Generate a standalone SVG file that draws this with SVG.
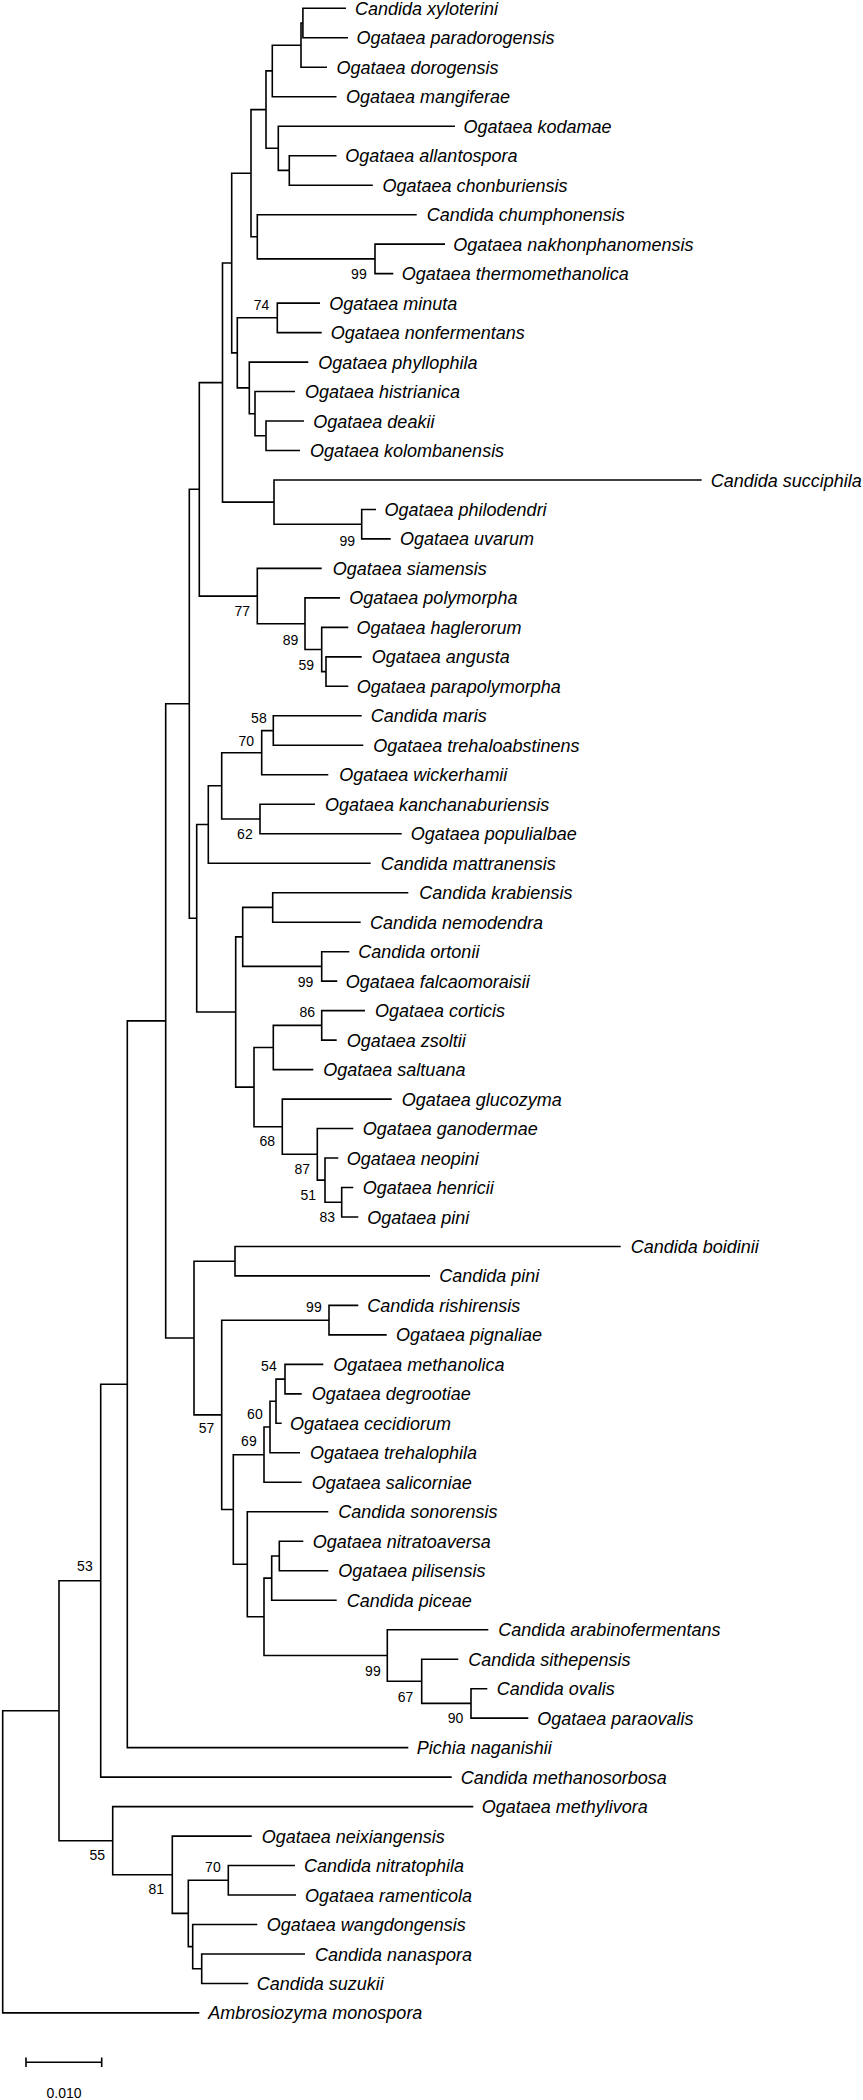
<svg xmlns="http://www.w3.org/2000/svg" width="863" height="2100" viewBox="0 0 863 2100">
<style>
.b{fill:none;stroke:#000;stroke-width:1.6;stroke-linejoin:miter}
.t{font-family:"Liberation Sans",Arial,sans-serif;font-size:18px;font-style:italic;fill:#000}
.s{font-family:"Liberation Sans",Arial,sans-serif;font-size:14px;fill:#000;text-anchor:end}
.sc{font-family:"Liberation Sans",Arial,sans-serif;font-size:14px;fill:#000;text-anchor:middle}
</style>
<rect width="863" height="2100" fill="#fff"/>
<g id="branches" class="b">
<path d="M346 8.3H302.9V37.8H348"/>
<path d="M302.9 23H301V67.3H327"/>
<path d="M301 45.2H272.3V96.7H336.5"/>
<path d="M336.5 155.7H289.3V185.2H372.8"/>
<path d="M455 126.2H278.3V170.4H289.3"/>
<path d="M272.3 70.9H266V148.3H278.3"/>
<path d="M445 244.1H375V273.6H393.3"/>
<path d="M416.7 214.7H257.3V258.9H375"/>
<path d="M266 109.6H251V236.8H257.3"/>
<path d="M320 303.1H277.3V332.6H321.7"/>
<path d="M304 421H266V450.5H300"/>
<path d="M295 391.5H255V435.8H266"/>
<path d="M308.3 362.1H249.3V413.7H255"/>
<path d="M277.3 317.8H237.3V387.9H249.3"/>
<path d="M251 173.2H231.7V352.9H237.3"/>
<path d="M376 509.5H361.7V538.9H390.7"/>
<path d="M701.7 480H274V524.2H361.7"/>
<path d="M231.7 263H222.5V502.1H274"/>
<path d="M361.7 656.9H326V686.3H348.3"/>
<path d="M348.3 627.4H321.7V671.6H326"/>
<path d="M340 597.9H305V649.5H321.7"/>
<path d="M321.7 568.4H257.3V623.7H305"/>
<path d="M222.5 382.6H199.3V596.1H257.3"/>
<path d="M361.7 715.8H273.3V745.3H363.3"/>
<path d="M273.3 730.6H261.7V774.8H328.3"/>
<path d="M315 804.3H260V833.7H401.7"/>
<path d="M261.7 752.7H221.7V819H260"/>
<path d="M221.7 785.8H208.3V863.2H370.7"/>
<path d="M408.3 892.7H272.7V922.2H360.7"/>
<path d="M349.3 951.7H321.7V981.1H337.3"/>
<path d="M272.7 907.4H242.7V966.4H321.7"/>
<path d="M365 1010.6H321.7V1040.1H336.7"/>
<path d="M321.7 1025.4H273.3V1069.6H313.3"/>
<path d="M353.3 1187.5H341.7V1217H358.3"/>
<path d="M338.3 1158H325V1202.2H341.7"/>
<path d="M353.3 1128.5H317.3V1180.1H325"/>
<path d="M391.7 1099.1H282.3V1154.3H317.3"/>
<path d="M273.3 1047.5H254V1126.7H282.3"/>
<path d="M242.7 936.9H235.7V1087.1H254"/>
<path d="M208.3 824.5H196.7V1012H235.7"/>
<path d="M199.3 489.3H189.3V918.3H196.7"/>
<path d="M620.7 1246.5H235V1275.9H430"/>
<path d="M358.3 1305.4H329V1334.9H386.7"/>
<path d="M323.3 1364.4H285V1393.9H301.7"/>
<path d="M285 1379.1H276V1423.3H281.7"/>
<path d="M276 1401.2H270V1452.8H300"/>
<path d="M270 1427H264V1482.3H301.7"/>
<path d="M303.3 1541.3H279.3V1570.7H328.3"/>
<path d="M279.3 1556H271.7V1600.2H336.7"/>
<path d="M487.3 1688.7H471V1718.1H528.3"/>
<path d="M458.3 1659.2H421.7V1703.4H471"/>
<path d="M488.3 1629.7H387.3V1681.3H421.7"/>
<path d="M271.7 1578.1H264V1655.5H387.3"/>
<path d="M328.3 1511.8H247.3V1616.8H264"/>
<path d="M264 1454.7H233.3V1564.3H247.3"/>
<path d="M329 1320.2H221.7V1509.5H233.3"/>
<path d="M235 1261.2H194V1414.9H221.7"/>
<path d="M189.3 703.8H165.7V1338H194"/>
<path d="M165.7 1020.9H127.3V1747.6H408.3"/>
<path d="M127.3 1384.3H100.7V1777.1H451.7"/>
<path d="M295 1865.5H228.3V1895H296"/>
<path d="M305 1954H201.7V1983.5H248.3"/>
<path d="M257.3 1924.5H192.7V1968.7H201.7"/>
<path d="M228.3 1880.3H188.3V1946.6H192.7"/>
<path d="M251.7 1836.1H172.3V1913.4H188.3"/>
<path d="M473.3 1806.6H112.7V1874.7H172.3"/>
<path d="M100.7 1580.7H59V1840.7H112.7"/>
<path d="M59 1710.7H2.7V2012.9H199.3"/>
</g>
<g id="leaves" class="t">
<g id="leaf-candida-xyloterini"><text x="355" y="14.8">Candida xyloterini</text></g>
<g id="leaf-ogataea-paradorogensis"><text x="356.4" y="44.3">Ogataea paradorogensis</text></g>
<g id="leaf-ogataea-dorogensis"><text x="336.5" y="73.8">Ogataea dorogensis</text></g>
<g id="leaf-ogataea-mangiferae"><text x="346" y="103.2">Ogataea mangiferae</text></g>
<g id="leaf-ogataea-kodamae"><text x="463.5" y="132.7">Ogataea kodamae</text></g>
<g id="leaf-ogataea-allantospora"><text x="345.3" y="162.2">Ogataea allantospora</text></g>
<g id="leaf-ogataea-chonburiensis"><text x="382.4" y="191.7">Ogataea chonburiensis</text></g>
<g id="leaf-candida-chumphonensis"><text x="426.7" y="221.2">Candida chumphonensis</text></g>
<g id="leaf-ogataea-nakhonphanomensis"><text x="453.3" y="250.6">Ogataea nakhonphanomensis</text></g>
<g id="leaf-ogataea-thermomethanolica"><text x="401.7" y="280.1">Ogataea thermomethanolica</text></g>
<g id="leaf-ogataea-minuta"><text x="329.3" y="309.6">Ogataea minuta</text></g>
<g id="leaf-ogataea-nonfermentans"><text x="330.7" y="339.1">Ogataea nonfermentans</text></g>
<g id="leaf-ogataea-phyllophila"><text x="318.3" y="368.6">Ogataea phyllophila</text></g>
<g id="leaf-ogataea-histrianica"><text x="305" y="398">Ogataea histrianica</text></g>
<g id="leaf-ogataea-deakii"><text x="313.3" y="427.5">Ogataea deakii</text></g>
<g id="leaf-ogataea-kolombanensis"><text x="310" y="457">Ogataea kolombanensis</text></g>
<g id="leaf-candida-succiphila"><text x="710.7" y="486.5">Candida succiphila</text></g>
<g id="leaf-ogataea-philodendri"><text x="384.5" y="516">Ogataea philodendri</text></g>
<g id="leaf-ogataea-uvarum"><text x="400" y="545.4">Ogataea uvarum</text></g>
<g id="leaf-ogataea-siamensis"><text x="332.7" y="574.9">Ogataea siamensis</text></g>
<g id="leaf-ogataea-polymorpha"><text x="349.3" y="604.4">Ogataea polymorpha</text></g>
<g id="leaf-ogataea-haglerorum"><text x="356.5" y="633.9">Ogataea haglerorum</text></g>
<g id="leaf-ogataea-angusta"><text x="371.7" y="663.4">Ogataea angusta</text></g>
<g id="leaf-ogataea-parapolymorpha"><text x="356.7" y="692.8">Ogataea parapolymorpha</text></g>
<g id="leaf-candida-maris"><text x="370.7" y="722.3">Candida maris</text></g>
<g id="leaf-ogataea-trehaloabstinens"><text x="373.3" y="751.8">Ogataea trehaloabstinens</text></g>
<g id="leaf-ogataea-wickerhamii"><text x="339.3" y="781.3">Ogataea wickerhamii</text></g>
<g id="leaf-ogataea-kanchanaburiensis"><text x="325" y="810.8">Ogataea kanchanaburiensis</text></g>
<g id="leaf-ogataea-populialbae"><text x="410.7" y="840.2">Ogataea populialbae</text></g>
<g id="leaf-candida-mattranensis"><text x="380.7" y="869.7">Candida mattranensis</text></g>
<g id="leaf-candida-krabiensis"><text x="419.3" y="899.2">Candida krabiensis</text></g>
<g id="leaf-candida-nemodendra"><text x="370" y="928.7">Candida nemodendra</text></g>
<g id="leaf-candida-ortonii"><text x="358.3" y="958.2">Candida ortonii</text></g>
<g id="leaf-ogataea-falcaomoraisii"><text x="345.7" y="987.6">Ogataea falcaomoraisii</text></g>
<g id="leaf-ogataea-corticis"><text x="375" y="1017.1">Ogataea corticis</text></g>
<g id="leaf-ogataea-zsoltii"><text x="346.7" y="1046.6">Ogataea zsoltii</text></g>
<g id="leaf-ogataea-saltuana"><text x="323.3" y="1076.1">Ogataea saltuana</text></g>
<g id="leaf-ogataea-glucozyma"><text x="401.7" y="1105.6">Ogataea glucozyma</text></g>
<g id="leaf-ogataea-ganodermae"><text x="362.7" y="1135">Ogataea ganodermae</text></g>
<g id="leaf-ogataea-neopini"><text x="346.7" y="1164.5">Ogataea neopini</text></g>
<g id="leaf-ogataea-henricii"><text x="362.7" y="1194">Ogataea henricii</text></g>
<g id="leaf-ogataea-pini"><text x="367.3" y="1223.5">Ogataea pini</text></g>
<g id="leaf-candida-boidinii"><text x="630.7" y="1253">Candida boidinii</text></g>
<g id="leaf-candida-pini"><text x="439.3" y="1282.4">Candida pini</text></g>
<g id="leaf-candida-rishirensis"><text x="367.3" y="1311.9">Candida rishirensis</text></g>
<g id="leaf-ogataea-pignaliae"><text x="396" y="1341.4">Ogataea pignaliae</text></g>
<g id="leaf-ogataea-methanolica"><text x="333.3" y="1370.9">Ogataea methanolica</text></g>
<g id="leaf-ogataea-degrootiae"><text x="311.7" y="1400.4">Ogataea degrootiae</text></g>
<g id="leaf-ogataea-cecidiorum"><text x="290" y="1429.8">Ogataea cecidiorum</text></g>
<g id="leaf-ogataea-trehalophila"><text x="310" y="1459.3">Ogataea trehalophila</text></g>
<g id="leaf-ogataea-salicorniae"><text x="311.7" y="1488.8">Ogataea salicorniae</text></g>
<g id="leaf-candida-sonorensis"><text x="338.3" y="1518.3">Candida sonorensis</text></g>
<g id="leaf-ogataea-nitratoaversa"><text x="312.7" y="1547.8">Ogataea nitratoaversa</text></g>
<g id="leaf-ogataea-pilisensis"><text x="338.3" y="1577.2">Ogataea pilisensis</text></g>
<g id="leaf-candida-piceae"><text x="346.7" y="1606.7">Candida piceae</text></g>
<g id="leaf-candida-arabinofermentans"><text x="498.3" y="1636.2">Candida arabinofermentans</text></g>
<g id="leaf-candida-sithepensis"><text x="468.3" y="1665.7">Candida sithepensis</text></g>
<g id="leaf-candida-ovalis"><text x="496.7" y="1695.2">Candida ovalis</text></g>
<g id="leaf-ogataea-paraovalis"><text x="537.3" y="1724.6">Ogataea paraovalis</text></g>
<g id="leaf-pichia-naganishii"><text x="416.7" y="1754.1">Pichia naganishii</text></g>
<g id="leaf-candida-methanosorbosa"><text x="460.7" y="1783.6">Candida methanosorbosa</text></g>
<g id="leaf-ogataea-methylivora"><text x="481.7" y="1813.1">Ogataea methylivora</text></g>
<g id="leaf-ogataea-neixiangensis"><text x="261.7" y="1842.6">Ogataea neixiangensis</text></g>
<g id="leaf-candida-nitratophila"><text x="304" y="1872">Candida nitratophila</text></g>
<g id="leaf-ogataea-ramenticola"><text x="305" y="1901.5">Ogataea ramenticola</text></g>
<g id="leaf-ogataea-wangdongensis"><text x="266.7" y="1931">Ogataea wangdongensis</text></g>
<g id="leaf-candida-nanaspora"><text x="315" y="1960.5">Candida nanaspora</text></g>
<g id="leaf-candida-suzukii"><text x="256.7" y="1990">Candida suzukii</text></g>
<g id="leaf-ambrosiozyma-monospora"><text x="208.3" y="2019.4">Ambrosiozyma monospora</text></g>
</g>
<g id="bootstrap" class="s">
<text x="366.7" y="279">99</text>
<text x="269.3" y="309.7">74</text>
<text x="355" y="545.7">99</text>
<text x="250" y="615.7">77</text>
<text x="298.3" y="645">89</text>
<text x="314" y="670">59</text>
<text x="266.7" y="723.3">58</text>
<text x="254" y="745.7">70</text>
<text x="252.7" y="839">62</text>
<text x="313.3" y="986.7">99</text>
<text x="315" y="1016.7">86</text>
<text x="275" y="1146">68</text>
<text x="310" y="1174">87</text>
<text x="316" y="1200">51</text>
<text x="335" y="1222.3">83</text>
<text x="321.7" y="1312.3">99</text>
<text x="276.7" y="1370.7">54</text>
<text x="262.7" y="1419">60</text>
<text x="256.7" y="1445.7">69</text>
<text x="214.3" y="1433.3">57</text>
<text x="92.7" y="1570.7">53</text>
<text x="380.7" y="1675.7">99</text>
<text x="413.3" y="1701.7">67</text>
<text x="463.3" y="1723.3">90</text>
<text x="105" y="1860">55</text>
<text x="164" y="1894">81</text>
<text x="220.7" y="1872.3">70</text>
</g>
<g id="scale-bar">
<path class="b" d="M26 2062.3H101.7M26 2057.5V2067M101.7 2057.5V2067"/>
<text class="sc" x="64" y="2098">0.010</text>
</g>
</svg>
